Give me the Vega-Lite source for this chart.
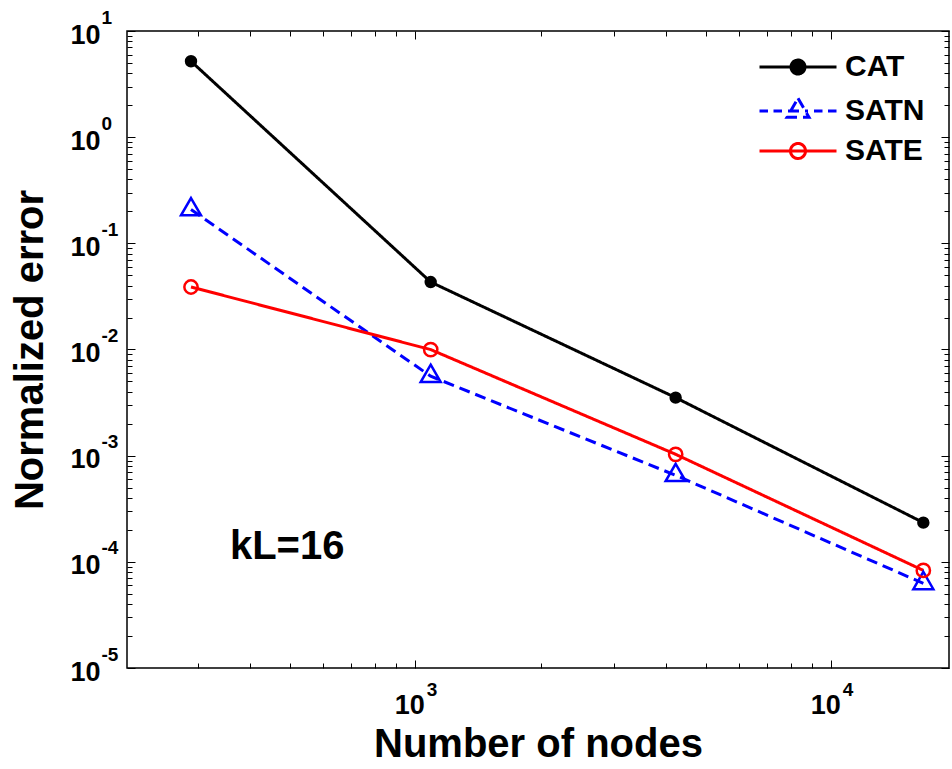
{
  "$schema": "https://vega.github.io/schema/vega-lite/v6.json",
  "width": 822,
  "height": 637,
  "autosize": {"type": "none"},
  "padding": {"left": 127, "top": 31, "right": 3, "bottom": 101},
  "background": "white",
  "datasets": {
    "main": [
      {"series": "CAT", "nodes": 289, "error": 5.19},
      {"series": "CAT", "nodes": 1089, "error": 0.0432},
      {"series": "CAT", "nodes": 4225, "error": 0.00352},
      {"series": "CAT", "nodes": 16641, "error": 0.000234},
      {"series": "SATN", "nodes": 289, "error": 0.208},
      {"series": "SATN", "nodes": 1089, "error": 0.0056},
      {"series": "SATN", "nodes": 4225, "error": 0.000653},
      {"series": "SATN", "nodes": 16641, "error": 0.0000627},
      {"series": "SATE", "nodes": 289, "error": 0.0388},
      {"series": "SATE", "nodes": 1089, "error": 0.00998},
      {"series": "SATE", "nodes": 4225, "error": 0.00103},
      {"series": "SATE", "nodes": 16641, "error": 0.000083}
    ]
  },
  "resolve": {"axis": {"x": "independent", "y": "independent"}},
  "layer": [
    {
      "data": {"name": "main"},
      "mark": {"type": "line", "strokeWidth": 3},
      "encoding": {
        "x": {"field": "nodes", "type": "quantitative",
          "scale": {"type": "log", "domain": [202.8, 19180], "nice": false},
          "axis": {"orient": "bottom", "values": [1000, 10000], "labelExpr": "'10'", "ticks": false, "tickSize": 0, "labelFontSize": 27, "labelAlign": "right", "labelOffset": 9, "labelBaseline": "top", "labelPadding": 24, "title": "Number of nodes", "titleFontSize": 40, "titleY": 88, "titleBaseline": "alphabetic"}},
        "y": {"field": "error", "type": "quantitative",
          "scale": {"type": "log", "domain": [0.00001, 10], "nice": false},
          "axis": {"orient": "left", "values": [0.00001, 0.0001, 0.001, 0.01, 0.1, 1, 10], "labelExpr": "'10'", "ticks": false, "tickSize": 0, "labelFontSize": 27, "labelAlign": "right", "labelBaseline": "middle", "labelOffset": 4, "labelPadding": 27, "title": "Normalized error", "titleFontSize": 40, "titleX": -85, "titleBaseline": "alphabetic", "titleAngle": -90}},
        "color": {"field": "series", "type": "nominal",
          "scale": {"domain": ["CAT", "SATN", "SATE"], "range": ["#000000", "#0000ff", "#ff0000"]},
          "legend": {"orient": "none", "legendX": 656, "legendY": 21, "title": null, "labelFontSize": 30, "labelFont": "Liberation Sans", "labelFontWeight": "bold", "labelColor": "black", "labelOffset": 32, "rowPadding": 10, "symbolSize": 400, "symbolStrokeWidth": 3,
            "encode": {"symbols": {"update": {
              "shape": {"signal": "datum.value === 'CAT' ? 'M-3.85,0H3.85M-0.7,0A0.7,0.7,0,1,0,0.7,0A0.7,0.7,0,1,0,-0.7,0Z' : datum.value === 'SATN' ? 'M-3.85,0H-3M-2.45,0H-1.6M-1,0H1M1.6,0H2.45M3,0H3.85M0,-1.27L1.1,0.635L-1.1,0.635Z' : 'M-3.85,0H3.85M-0.75,0A0.75,0.75,0,1,0,0.75,0A0.75,0.75,0,1,0,-0.75,0Z'"},
              "fill": {"signal": "datum.value === 'CAT' ? 'black' : 'transparent'"},
              "stroke": {"signal": "datum.value === 'CAT' ? 'black' : datum.value === 'SATN' ? '#0000ff' : '#ff0000'"},
              "strokeDash": {"value": []},
              "strokeWidth": {"value": 3},
              "size": {"value": 400},
              "opacity": {"value": 1}
            }}}}},
        "strokeDash": {"field": "series", "type": "nominal",
          "scale": {"domain": ["CAT", "SATN", "SATE"], "range": [[1, 0], [11, 6], [1, 0]]},
          "legend": null}
      }
    },
    {
      "data": {"name": "main"},
      "transform": [{"filter": "datum.series === 'CAT'"}],
      "mark": {"type": "point", "shape": "circle", "filled": true, "size": 154, "color": "black", "opacity": 1},
      "encoding": {
        "x": {"field": "nodes", "type": "quantitative",
          "scale": {"type": "log", "domain": [202.8, 19180], "nice": false},
          "axis": {"orient": "bottom", "values": [1000, 10000], "labelExpr": "'' + round(log(datum.value)/LN10)", "ticks": false, "tickSize": 0, "labelFontSize": 19, "labelAlign": "left", "labelOffset": 11, "labelBaseline": "top", "labelPadding": 12, "title": null}},
        "y": {"field": "error", "type": "quantitative",
          "scale": {"type": "log", "domain": [0.00001, 10], "nice": false},
          "axis": {"orient": "left", "values": [0.00001, 0.0001, 0.001, 0.01, 0.1, 1, 10], "labelExpr": "'' + round(log(datum.value)/LN10)", "ticks": false, "tickSize": 0, "labelFontSize": 19, "labelAlign": "left", "labelBaseline": "middle", "labelOffset": -14, "labelPadding": 26, "title": null}}
      }
    },
    {
      "data": {"name": "main"},
      "transform": [{"filter": "datum.series === 'SATN'"}],
      "mark": {"type": "point", "shape": "M0,-1.155L1,0.577L-1,0.577Z", "filled": false, "size": 400, "color": "#0000ff", "strokeWidth": 2.5, "opacity": 1},
      "encoding": {
        "x": {"field": "nodes", "type": "quantitative",
          "scale": {"type": "log", "domain": [202.8, 19180], "nice": false},
          "axis": {"orient": "bottom", "values": [1000, 10000], "labels": false, "tickSize": -8, "title": null}},
        "y": {"field": "error", "type": "quantitative",
          "scale": {"type": "log", "domain": [0.00001, 10], "nice": false},
          "axis": {"orient": "left", "values": [0.00001, 0.0001, 0.001, 0.01, 0.1, 1, 10], "labels": false, "tickSize": -8, "title": null}}
      }
    },
    {
      "data": {"name": "main"},
      "transform": [{"filter": "datum.series === 'SATE'"}],
      "mark": {"type": "point", "shape": "circle", "filled": false, "size": 177, "color": "#ff0000", "strokeWidth": 2.5, "opacity": 1},
      "encoding": {
        "x": {"field": "nodes", "type": "quantitative",
          "scale": {"type": "log", "domain": [202.8, 19180], "nice": false},
          "axis": {"orient": "bottom", "values": [300, 400, 500, 600, 700, 800, 900, 2000, 3000, 4000, 5000, 6000, 7000, 8000, 9000], "labels": false, "tickSize": -5, "title": null}},
        "y": {"field": "error", "type": "quantitative",
          "scale": {"type": "log", "domain": [0.00001, 10], "nice": false},
          "axis": {"orient": "left", "values": [0.00002, 0.00003, 0.00004, 0.00005, 0.00006, 0.00007, 0.00008, 0.00009, 0.0002, 0.0003, 0.0004, 0.0005, 0.0006, 0.0007, 0.0008, 0.0009, 0.002, 0.003, 0.004, 0.005, 0.006, 0.007, 0.008, 0.009, 0.02, 0.03, 0.04, 0.05, 0.06, 0.07, 0.08, 0.09, 0.2, 0.3, 0.4, 0.5, 0.6, 0.7, 0.8, 0.9, 2, 3, 4, 5, 6, 7, 8, 9], "labels": false, "tickSize": -5, "title": null}}
      }
    },
    {
      "data": {"values": [{"label": "kL=16"}]},
      "mark": {"type": "text", "fontSize": 40, "fontWeight": "bold", "font": "Liberation Sans", "align": "left", "baseline": "alphabetic", "color": "black"},
      "encoding": {
        "x": {"datum": 358.5, "type": "quantitative",
          "scale": {"type": "log", "domain": [202.8, 19180], "nice": false},
          "axis": {"orient": "top", "values": [1000, 10000], "labels": false, "tickSize": -8, "title": null}},
        "y": {"datum": 0.000107, "type": "quantitative",
          "scale": {"type": "log", "domain": [0.00001, 10], "nice": false},
          "axis": {"orient": "right", "values": [0.00001, 0.0001, 0.001, 0.01, 0.1, 1, 10], "labels": false, "tickSize": -8, "title": null}},
        "text": {"field": "label", "type": "nominal"}
      }
    },
    {
      "data": {"name": "main"},
      "mark": {"type": "point", "opacity": 0},
      "encoding": {
        "x": {"field": "nodes", "type": "quantitative",
          "scale": {"type": "log", "domain": [202.8, 19180], "nice": false},
          "axis": {"orient": "top", "values": [300, 400, 500, 600, 700, 800, 900, 2000, 3000, 4000, 5000, 6000, 7000, 8000, 9000], "labels": false, "tickSize": -5, "title": null}},
        "y": {"field": "error", "type": "quantitative",
          "scale": {"type": "log", "domain": [0.00001, 10], "nice": false},
          "axis": {"orient": "right", "values": [0.00002, 0.00003, 0.00004, 0.00005, 0.00006, 0.00007, 0.00008, 0.00009, 0.0002, 0.0003, 0.0004, 0.0005, 0.0006, 0.0007, 0.0008, 0.0009, 0.002, 0.003, 0.004, 0.005, 0.006, 0.007, 0.008, 0.009, 0.02, 0.03, 0.04, 0.05, 0.06, 0.07, 0.08, 0.09, 0.2, 0.3, 0.4, 0.5, 0.6, 0.7, 0.8, 0.9, 2, 3, 4, 5, 6, 7, 8, 9], "labels": false, "tickSize": -5, "title": null}}
      }
    }
  ],
  "config": {
    "font": "Liberation Sans",
    "view": {"stroke": "black", "strokeWidth": 1.5},
    "axis": {"labelFont": "Liberation Sans", "labelFontWeight": "bold", "labelColor": "black", "tickColor": "black", "tickWidth": 1, "domain": false, "grid": false, "titleFont": "Liberation Sans", "titleFontWeight": "bold", "titleColor": "black", "labelFlush": false, "labelOverlap": false, "labelBound": false}
  }
}
